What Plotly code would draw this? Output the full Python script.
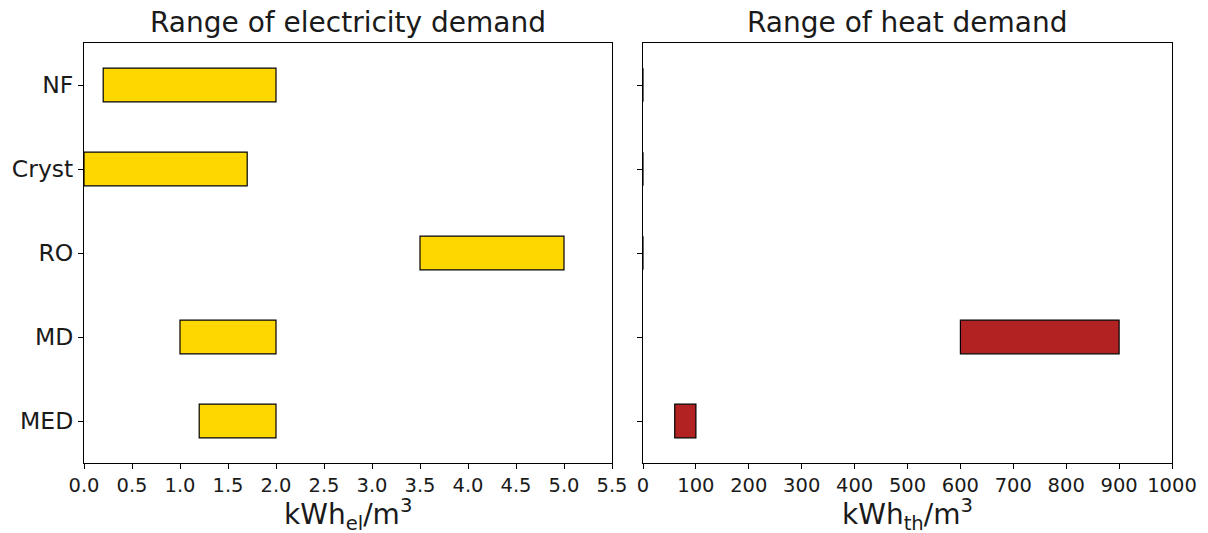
import plotly.graph_objects as go

processes = ["NF", "Cryst", "RO", "MD", "MED"]
elec_min = [0.2, 0.0, 3.5, 1.0, 1.2]
elec_max = [2.0, 1.7, 5.0, 2.0, 2.0]
heat_min = [0, 0, 0, 600, 60]
heat_max = [0, 0, 0, 900, 100]

elec_ticks = [0.0, 0.5, 1.0, 1.5, 2.0, 2.5, 3.0, 3.5, 4.0, 4.5, 5.0, 5.5]
heat_ticks = [0, 100, 200, 300, 400, 500, 600, 700, 800, 900, 1000]

FONT = "DejaVu Sans"
TXT = "#1a1a1a"
fig = go.Figure()

fig.add_trace(go.Bar(
    y=processes, x=[b - a for a, b in zip(elec_min, elec_max)], base=elec_min,
    orientation="h", width=0.4,
    marker=dict(color="#FFD700", line=dict(color="black", width=1.2)),
    xaxis="x", yaxis="y", showlegend=False))

fig.add_trace(go.Bar(
    y=processes, x=[b - a for a, b in zip(heat_min, heat_max)], base=heat_min,
    orientation="h", width=0.4,
    marker=dict(color="#B22222", line=dict(color="black", width=1.2)),
    xaxis="x2", yaxis="y2", showlegend=False))

cat_order = processes[::-1]
axis_common = dict(showline=True, linecolor="black", linewidth=1, mirror=True,
                   ticks="outside", ticklen=5, tickcolor="black", showgrid=False,
                   zeroline=False, automargin=False)
xtick_font = dict(family=FONT, size=19.5, color=TXT)
ytick_font = dict(family=FONT, size=23.5, color=TXT)
label_font = dict(family=FONT, size=28, color=TXT)

fig.update_layout(
    width=1208, height=533,
    margin=dict(l=0, r=0, t=0, b=0),
    paper_bgcolor="white", plot_bgcolor="white",
    font=dict(family=FONT, color=TXT),
    xaxis=dict(domain=[84/1208, 612/1208], range=[0, 5.5], tickvals=elec_ticks,
               ticktext=[f"{t:.1f}" for t in elec_ticks], anchor="y",
               tickfont=xtick_font, **axis_common),
    yaxis=dict(domain=[1-463/533, 1-43/533], type="category", categoryorder="array",
               categoryarray=cat_order, range=[-0.5, 4.5], anchor="x",
               tickfont=ytick_font, **axis_common),
    xaxis2=dict(domain=[643/1208, 1172/1208], range=[0, 1000], tickvals=heat_ticks,
                anchor="y2", tickfont=xtick_font, **axis_common),
    yaxis2=dict(domain=[1-463/533, 1-43/533], type="category", categoryorder="array",
                categoryarray=cat_order, range=[-0.5, 4.5], anchor="x2",
                showticklabels=False, **axis_common),
    annotations=[
        dict(text="Range of electricity demand", x=(84+612)/2/1208, y=1-23/533,
             xref="paper", yref="paper", showarrow=False, xanchor="center", yanchor="middle",
             font=dict(family=FONT, size=28, color=TXT)),
        dict(text="Range of heat demand", x=(643+1172)/2/1208, y=1-23/533,
             xref="paper", yref="paper", showarrow=False, xanchor="center", yanchor="middle",
             font=dict(family=FONT, size=28, color=TXT)),
        dict(text="kWh<sub>el</sub>/m<sup>3</sup>", x=(84+612)/2/1208, y=1-514/533,
             xref="paper", yref="paper", showarrow=False, xanchor="center", yanchor="middle",
             font=label_font),
        dict(text="kWh<sub>th</sub>/m<sup>3</sup>", x=(643+1172)/2/1208, y=1-514/533,
             xref="paper", yref="paper", showarrow=False, xanchor="center", yanchor="middle",
             font=label_font),
    ],
)

fig.write_html("out.html")
